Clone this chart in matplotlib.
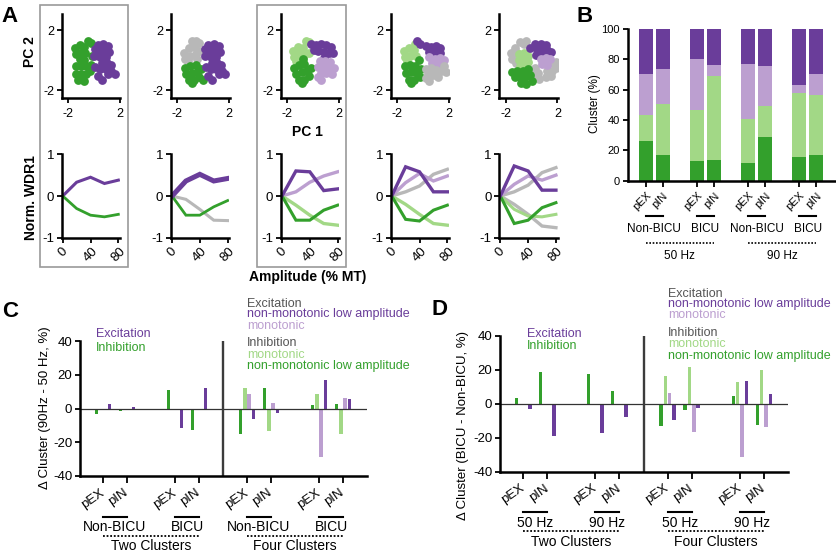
import matplotlib
matplotlib.use('Agg')
import matplotlib.pyplot as plt
from matplotlib.transforms import blended_transform_factory
from matplotlib.patches import Rectangle

plt.rcParams['font.family'] = ['Liberation Sans', 'DejaVu Sans']
plt.rcParams['axes.unicode_minus'] = False

# ---------------- colours ----------------
DP = '#6a3d9a'   # dark purple
LP = '#bc9fd0'   # light purple
DG = '#33a02c'   # dark green
LG = '#a2d886'   # light green
GR = '#b8b8b8'   # gray
HEAD = '#555555'

# ---------------- data: panel A scatter clusters (PC1, PC2) ----------------
A1_green = [(-1.5, 0.8), (-1.1, 1.0), (-0.8, 0.9), (-1.4, 0.4), (-1.0, 0.5), (-0.7, 0.5), (-1.1, 0.05),
            (-0.8, 0.0), (-1.4, -0.4), (-1.0, -0.4), (-0.6, -0.4), (-1.4, -0.9), (-1.0, -0.9), (-0.6, -0.9),
            (-0.3, -0.7), (-1.2, -1.3), (-0.8, -1.4), (-0.45, 1.25), (-0.2, 1.15), (-0.2, -0.3), (-0.15, 0.3)]
A1_purple = [(0.3, 1.0), (0.7, 1.05), (1.1, 0.95), (0.4, 0.6), (0.8, 0.6), (1.2, 0.55), (0.5, 0.2), (0.9, 0.2),
             (0.6, -0.2), (1.0, -0.2), (1.3, -0.3), (0.5, -0.6), (0.9, -0.6), (1.35, -0.7), (1.6, -0.9),
             (1.1, -0.95), (0.05, 0.75), (0.1, -0.45), (0.3, -1.05), (0.6, -1.35), (0.0, 0.3)]
A2_gray = [(-1.5, 0.5), (-1.1, 0.8), (-0.7, 0.9), (-1.4, 0.1), (-1.0, 0.3), (-0.6, 0.4), (-0.3, 0.6),
           (-0.9, 1.25), (-0.55, 1.3), (-0.3, 1.15), (-1.2, -0.05), (-0.5, 0.05)]
A2_green = [(-1.4, -0.5), (-1.0, -0.4), (-0.6, -0.35), (-1.3, -0.9), (-0.9, -0.85), (-0.5, -0.8), (-0.2, -0.6),
            (-1.1, -1.3), (-0.7, -1.35), (-0.3, -1.1), (-0.05, -1.3), (-0.9, -1.55)]
A2_purple = [(0.4, 1.0), (0.8, 1.05), (1.2, 0.95), (0.5, 0.6), (0.9, 0.6), (1.3, 0.55), (0.6, 0.2), (1.0, 0.2),
             (0.7, -0.2), (1.1, -0.2), (1.4, -0.3), (0.6, -0.6), (1.0, -0.6), (1.45, -0.7), (1.7, -0.9),
             (1.2, -0.95), (0.15, 0.75), (0.2, -0.45), (0.4, -1.05), (0.7, -1.35), (0.1, 0.3)]
A3_lgreen = [(-1.6, 0.6), (-1.2, 0.9), (-0.8, 0.8), (-1.5, 0.2), (-1.1, 0.4), (-0.7, 0.35), (-0.35, 0.5),
             (-1.3, -0.05), (-0.6, 1.25), (-0.35, 1.2)]
A3_dgreen = [(-1.5, -0.5), (-1.1, -0.3), (-0.7, -0.25), (-1.3, -0.9), (-0.9, -0.8), (-0.5, -0.7), (-0.2, -0.5),
             (-1.1, -1.3), (-0.7, -1.3), (-0.3, -1.05), (-0.9, -1.5), (-0.8, 0.05)]
A3_dpurple = [(0.2, 1.0), (0.6, 1.05), (1.0, 1.0), (1.4, 0.9), (0.4, 0.6), (0.8, 0.55), (1.2, 0.5), (1.55, 0.45),
              (0.8, 0.15), (-0.15, 1.1), (0.05, 0.65)]
A3_lpurple = [(0.5, -0.05), (0.9, -0.05), (1.3, -0.1), (0.4, -0.45), (0.8, -0.45), (1.2, -0.45), (1.6, -0.5),
              (0.6, -0.85), (1.0, -0.85), (1.45, -0.9), (0.4, -1.15), (0.6, -1.3)]
A4_lgreen = [(-1.5, 0.6), (-1.1, 0.8), (-0.7, 0.7), (-1.4, 0.2), (-1.0, 0.3), (-0.55, 0.3), (-1.2, -0.05),
             (-0.6, 1.05)]
A4_dgreen = [(-1.4, -0.4), (-1.0, -0.3), (-0.6, -0.4), (-1.3, -0.85), (-0.9, -0.8), (-0.5, -0.85), (-0.15, -0.6),
             (-1.1, -1.3), (-0.7, -1.3), (-0.2, -1.1), (-0.9, -1.55), (-0.3, 0.0)]
A4_dpurple = [(-0.5, 1.25), (-0.2, 1.05), (0.2, 0.95), (0.6, 0.9), (1.0, 0.95), (1.35, 0.8), (0.5, 0.55),
              (0.9, 0.55), (1.3, 0.45), (0.8, 0.25)]
A4_lpurple = [(0.5, 0.2), (0.9, 0.1), (1.3, 0.15), (1.65, 0.0), (0.7, -0.2), (1.1, -0.25), (1.5, -0.3)]
A4_gray = [(0.2, -0.6), (0.6, -0.5), (1.0, -0.65), (1.4, -0.7), (1.75, -0.8), (0.4, -0.95), (0.8, -1.0),
           (1.2, -1.1), (0.5, -1.4), (0.2, -1.2), (1.6, -0.4)]
A5_gray1 = [(-1.6, 0.5), (-1.3, 0.8), (-1.5, 0.1), (-1.2, -0.2), (-0.9, 1.2), (-0.6, 1.1), (-1.1, 0.45),
            (-0.4, 1.3)]
A5_lgreen = [(-1.0, 0.4), (-0.6, 0.45), (-0.3, 0.3), (-1.0, 0.0), (-0.6, 0.0), (-0.3, -0.1), (-0.9, -0.4),
             (-0.5, -0.45)]
A5_dgreen = [(-1.5, -0.8), (-1.1, -0.7), (-0.7, -0.75), (-0.3, -0.6), (-1.3, -1.15), (-0.9, -1.1), (-0.5, -1.15),
             (-0.1, -1.0), (-0.8, -1.5), (-0.4, -1.6), (0.05, -1.4)]
A5_dpurple = [(-0.1, 0.8), (0.3, 1.1), (0.7, 1.05), (1.1, 1.0), (0.4, 0.75), (0.8, 0.7), (1.2, 0.7), (1.5, 0.55),
              (0.7, 0.35), (0.35, 0.35)]
A5_lpurple = [(0.7, 0.1), (1.1, 0.15), (1.4, 0.1), (0.8, -0.25), (1.2, -0.3)]
A5_gray2 = [(0.3, -0.5), (0.2, -0.9), (1.6, -0.2), (1.9, -0.5), (1.6, -0.7), (1.2, -0.7), (1.5, -1.05),
            (1.1, -1.1), (0.6, -1.25), (0.5, -0.85), (1.9, -0.15)]

scatter_panels = [
    [(A1_green, DG), (A1_purple, DP)],
    [(A2_gray, GR), (A2_green, DG), (A2_purple, DP)],
    [(A3_lgreen, LG), (A3_dgreen, DG), (A3_dpurple, DP), (A3_lpurple, LP)],
    [(A4_lgreen, LG), (A4_dgreen, DG), (A4_dpurple, DP), (A4_lpurple, LP), (A4_gray, GR)],
    [(A5_gray1, GR), (A5_gray2, GR), (A5_lgreen, LG), (A5_dgreen, DG), (A5_dpurple, DP), (A5_lpurple, LP)],
]

# ---------------- data: panel A line profiles ----------------
amplitude = [0, 20, 40, 60, 80]
L1_purple = [0, 0.33, 0.45, 0.30, 0.38]
L1_green = [0, -0.30, -0.46, -0.50, -0.44]
L2_gray = [0, -0.08, -0.32, -0.58, -0.59]
L2_green = [0, -0.46, -0.46, -0.26, -0.11]
L2_purple = [0, 0.36, 0.52, 0.36, 0.42]
L3_lpurple = [0, 0.10, 0.33, 0.48, 0.58]
L3_lgreen = [0, -0.22, -0.46, -0.66, -0.70]
L3_dgreen = [0, -0.58, -0.58, -0.34, -0.22]
L3_dpurple = [0, 0.60, 0.58, 0.13, 0.17]
L4_gray = [0, 0.10, 0.24, 0.52, 0.64]
L4_lpurple = [0, 0.32, 0.54, 0.36, 0.48]
L4_lgreen = [0, -0.20, -0.44, -0.66, -0.70]
L4_dgreen = [0, -0.56, -0.60, -0.34, -0.22]
L4_dpurple = [0, 0.70, 0.58, 0.10, 0.10]
L5_gray1 = [0, 0.10, 0.26, 0.56, 0.68]
L5_gray2 = [0, -0.20, -0.44, -0.72, -0.76]
L5_lpurple = [0, 0.28, 0.48, 0.38, 0.50]
L5_lgreen = [0, -0.32, -0.48, -0.50, -0.44]
L5_dgreen = [0, -0.66, -0.58, -0.28, -0.16]
L5_dpurple = [0, 0.72, 0.60, 0.14, 0.14]

line_panels = [
    [(L1_purple, DP, 2.2), (L1_green, DG, 2.0)],
    [(L2_gray, GR, 2.2), (L2_green, DG, 2.0), (L2_purple, DP, 3.6)],
    [(L3_lpurple, LP, 2.4), (L3_lgreen, LG, 2.4), (L3_dgreen, DG, 2.2), (L3_dpurple, DP, 2.4)],
    [(L4_gray, GR, 2.4), (L4_lpurple, LP, 2.4), (L4_lgreen, LG, 2.4), (L4_dgreen, DG, 2.2), (L4_dpurple, DP, 2.4)],
    [(L5_gray1, GR, 2.4), (L5_gray2, GR, 2.4), (L5_lpurple, LP, 2.4), (L5_lgreen, LG, 2.2),
     (L5_dgreen, DG, 2.2), (L5_dpurple, DP, 2.4)],
]

# ---------------- data: panel B ----------------
B_ticklabels = ['pEX', 'pIN'] * 4
B_conditions = ['Non-BICU', 'BICU', 'Non-BICU', 'BICU']
B_freqs = ['50 Hz', '90 Hz']
B_dgreen = [26.4, 17.0, 13.2, 13.7, 11.5, 29.0, 15.9, 16.8]
B_lgreen = [17.0, 33.5, 33.5, 55.5, 29.1, 20.4, 41.9, 39.9]
B_lpurple = [27.1, 23.1, 33.3, 6.8, 36.3, 26.4, 5.4, 13.6]
B_dpurple = [29.5, 26.4, 20.0, 24.0, 23.1, 24.2, 36.8, 29.7]

# ---------------- data: panel C (90 Hz - 50 Hz) ----------------
C_conditions = ['Non-BICU', 'BICU', 'Non-BICU', 'BICU']
C_two_inh = [-3.0, -1.2, 11.0, -12.5]
C_two_exc = [2.6, 1.0, -11.4, 12.2]
C_four_dgreen = [-15.4, 12.0, 2.3, 2.5]
C_four_lgreen = [12.0, -13.4, 8.6, -15.2]
C_four_lpurple = [8.6, 3.3, -28.5, 6.3]
C_four_dpurple = [-6.0, -2.4, 16.6, 5.7]

# ---------------- data: panel D (BICU - Non-BICU) ----------------
D_conditions = ['50 Hz', '90 Hz', '50 Hz', '90 Hz']
D_two_inh = [3.6, 18.8, 17.6, 7.6]
D_two_exc = [-3.2, -18.8, -17.4, -7.5]
D_four_dgreen = [-13.0, -3.4, 4.5, -12.5]
D_four_lgreen = [16.5, 22.0, 12.9, 20.0]
D_four_lpurple = [6.3, -16.6, -31.3, -13.5]
D_four_dpurple = [-9.5, -2.4, 13.5, 5.9]

cluster_groups = ['Two Clusters', 'Four Clusters']

# ---------------- figure helpers ----------------
W, H = 837, 553
fig = plt.figure(figsize=(W / 100, H / 100), dpi=100)


def rect(x0, y0, x1, y1):
    return [x0 / W, 1 - y1 / H, (x1 - x0) / W, (y1 - y0) / H]


def ftext(x, y, s, **kw):
    fig.text(x / W, 1 - y / H, s, **kw)


def style_axes(ax, lw=1.8):
    for side in ('top', 'right'):
        ax.spines[side].set_visible(False)
    for side in ('left', 'bottom'):
        ax.spines[side].set_linewidth(lw)
    ax.tick_params(width=1.3, length=3.5, color='k')
    ax.patch.set_alpha(0)


# ---------------- Panel A ----------------
spine_x = [61.7, 171.0, 281.0, 390.7, 499.3]
for i, sx in enumerate(spine_x):
    ax = fig.add_axes(rect(sx, 14, sx + 58.7, 97.7))
    for pts, col in scatter_panels[i]:
        xs = [p[0] for p in pts]
        ys = [p[1] for p in pts]
        ax.scatter(xs, ys, s=40, color=col, linewidths=0)
    ax.set_xlim(-2.5, 2.05)
    ax.set_ylim(-2.5, 3.07)
    ax.set_xticks([-2, 2])
    ax.set_xticklabels(['-2', '2'])
    ax.set_yticks([-2, 2])
    ax.set_yticklabels(['-2', '2'])
    style_axes(ax)
    ax.tick_params(labelsize=9, pad=2)
    ax.tick_params(axis='x', pad=4)

    axl = fig.add_axes(rect(sx, 154.3, sx + 58.3, 237.7))
    for vals, col, lw in line_panels[i]:
        axl.plot(amplitude, vals, color=col, lw=lw, solid_joinstyle='miter')
    axl.set_xlim(-1.44, 82.4)
    axl.set_ylim(-1, 1)
    axl.set_yticks([-1, 0, 1])
    axl.set_yticklabels(['-1', '0', '1'])
    axl.set_xticks([0, 40, 80])
    axl.set_xticklabels(['0', '40', '80'], rotation=45, ha='center', va='top')
    style_axes(axl)
    axl.tick_params(labelsize=9.5, pad=2)

# gray frames around panels 1 and 3
for x0, x1 in [(40, 128.3), (256.7, 345.7)]:
    fig.add_artist(Rectangle((x0 / W, 1 - 266.7 / H), (x1 - x0) / W, (266.7 - 5) / H,
                             transform=fig.transFigure, fill=False, edgecolor='#9a9a9a', lw=1.2))

ftext(30, 51.7, 'PC 2', rotation=90, ha='center', va='center', fontsize=10, fontweight='bold')
ftext(307.7, 136.5, 'PC 1', ha='center', va='baseline', fontsize=10, fontweight='bold')
ftext(31.3, 198, 'Norm. WDR1', rotation=90, ha='center', va='center', fontsize=10, fontweight='bold')
ftext(308, 281, 'Amplitude (% MT)', ha='center', va='baseline', fontsize=10, fontweight='bold')

# ---------------- Panel B ----------------
axB = fig.add_axes(rect(627.7, 29, 835, 180.7))
xB = [0, 1, 3, 4, 6, 7, 9, 10]
bottom = [0] * 8
for vals, col in [(B_dgreen, DG), (B_lgreen, LG), (B_lpurple, LP), (B_dpurple, DP)]:
    axB.bar(xB, vals, width=0.8, bottom=bottom, color=col, edgecolor='none')
    bottom = [b + v for b, v in zip(bottom, vals)]
axB.set_xlim(-1.06, 11.1)
axB.set_ylim(0, 100)
axB.set_yticks([0, 20, 40, 60, 80, 100])
axB.set_xticks(xB)
axB.set_xticklabels(B_ticklabels, rotation=45, ha='right', va='top', rotation_mode='anchor')
style_axes(axB)
axB.tick_params(labelsize=8, pad=2)
axB.tick_params(axis='x', length=4, pad=3)
ftext(595, 104, 'Cluster (%)', rotation=90, ha='center', va='center', fontsize=8.5)
trB = blended_transform_factory(axB.transData, axB.transAxes)
for k, lab in enumerate(B_conditions):
    a, b = xB[2 * k], xB[2 * k + 1]
    axB.plot([a, b], [-0.233, -0.233], transform=trB, color='k', lw=1.5, clip_on=False)
    axB.text((a + b) / 2, -0.336, lab, transform=trB, ha='center', va='baseline', fontsize=8.5)
for k, lab in enumerate(B_freqs):
    a, b = xB[4 * k], xB[4 * k + 3]
    axB.plot([a, b], [-0.413, -0.413], transform=trB, color='k', lw=1.2, ls=(0, (1, 1)), clip_on=False)
    axB.text((a + b) / 2, -0.518, lab, transform=trB, ha='center', va='baseline', fontsize=8.5)


# ---------------- Panels C and D ----------------
def delta_panel(box, two_inh, two_exc, four, conds, ylab, ylab_pos, fracs):
    ax = fig.add_axes(rect(*box))
    ticks = [0, 1, 3, 4, 6, 7, 9, 10]
    bw = 0.14
    ax.bar([t - 0.28 for t in ticks[:4]], two_inh, width=bw, color=DG)
    ax.bar([t + 0.28 for t in ticks[:4]], two_exc, width=bw, color=DP)
    offs = [-0.27, -0.09, 0.09, 0.27]
    for (vals, col), off in zip(four, offs):
        ax.bar([t + off for t in ticks[4:]], vals, width=bw, color=col)
    ax.axhline(0, color='#333333', lw=0.9)
    ax.axvline(5, color='#3c3c3c', lw=1.7)
    ax.set_xlim(-0.96, 11)
    ax.set_ylim(-40, 40)
    ax.set_yticks([-40, -20, 0, 20, 40])
    ax.set_xticks(ticks)
    ax.set_xticklabels(['pEX', 'pIN'] * 4, rotation=35, ha='right', va='center', rotation_mode='anchor')
    style_axes(ax)
    ax.tick_params(labelsize=9.5, pad=2)
    ax.tick_params(axis='x', length=5, pad=6)
    ftext(ylab_pos[0], ylab_pos[1], ylab, rotation=90, ha='center', va='center', fontsize=9.5)
    tr = blended_transform_factory(ax.transData, ax.transAxes)
    fu, fs, fd, fg = fracs
    for k, lab in enumerate(conds):
        a, b = ticks[2 * k], ticks[2 * k + 1]
        ax.plot([a, b], [fu, fu], transform=tr, color='k', lw=1.5, clip_on=False)
        ax.text((a + b) / 2, fs, lab, transform=tr, ha='center', va='baseline', fontsize=10)
    for k, lab in enumerate(cluster_groups):
        a, b = ticks[4 * k], ticks[4 * k + 3]
        ax.plot([a, b], [fd, fd], transform=tr, color='k', lw=1.3, ls=(0, (1, 1)), clip_on=False)
        ax.text((a + b) / 2, fg, lab, transform=tr, ha='center', va='baseline', fontsize=10)
    return ax


delta_panel((80, 341, 367, 476), C_two_inh, C_two_exc,
            [(C_four_dgreen, DG), (C_four_lgreen, LG), (C_four_lpurple, LP), (C_four_dpurple, DP)],
            C_conditions, '\u0394 Cluster (90Hz - 50 Hz, %)', (45, 408), (-0.301, -0.405, -0.444, -0.548))
delta_panel((500, 336, 788, 471.7), D_two_inh, D_two_exc,
            [(D_four_dgreen, DG), (D_four_lgreen, LG), (D_four_lpurple, LP), (D_four_dpurple, DP)],
            D_conditions, '\u0394 Cluster (BICU - Non-BICU, %)', (463.5, 426), (-0.299, -0.41, -0.437, -0.545))

# legends
LEG = 9
ftext(96, 337.3, 'Excitation', color=DP, fontsize=LEG, va='baseline')
ftext(96, 350.7, 'Inhibition', color=DG, fontsize=LEG, va='baseline')
for (txt, col), yb in zip([('Excitation', HEAD), ('non-monotonic low amplitude', DP), ('monotonic', LP),
                           ('Inhibition', HEAD), ('monotonic', LG), ('non-monotonic low amplitude', DG)],
                          [306.7, 317.5, 328.7, 346, 357.5, 369]):
    ftext(246.7, yb, txt, color=col, fontsize=LEG, va='baseline')

ftext(526.7, 336.7, 'Excitation', color=DP, fontsize=LEG, va='baseline')
ftext(526.7, 349.3, 'Inhibition', color=DG, fontsize=LEG, va='baseline')
for (txt, col), yb in zip([('Excitation', HEAD), ('non-monotonic low amplitude', DP), ('monotonic', LP),
                           ('Inhibition', HEAD), ('monotonic', LG), ('non-monotonic low amplitude', DG)],
                          [296.7, 307.3, 318.3, 336, 347.3, 359]):
    ftext(668.3, yb, txt, color=col, fontsize=LEG, va='baseline')

# panel letters
for lab, x, yb in [('A', 1.7, 21.7), ('B', 576.7, 21.7), ('C', 1.7, 316.7), ('D', 431.7, 315)]:
    ftext(x, yb, lab, fontsize=16, fontweight='bold', va='baseline')

fig.savefig('out.png', dpi=100)
